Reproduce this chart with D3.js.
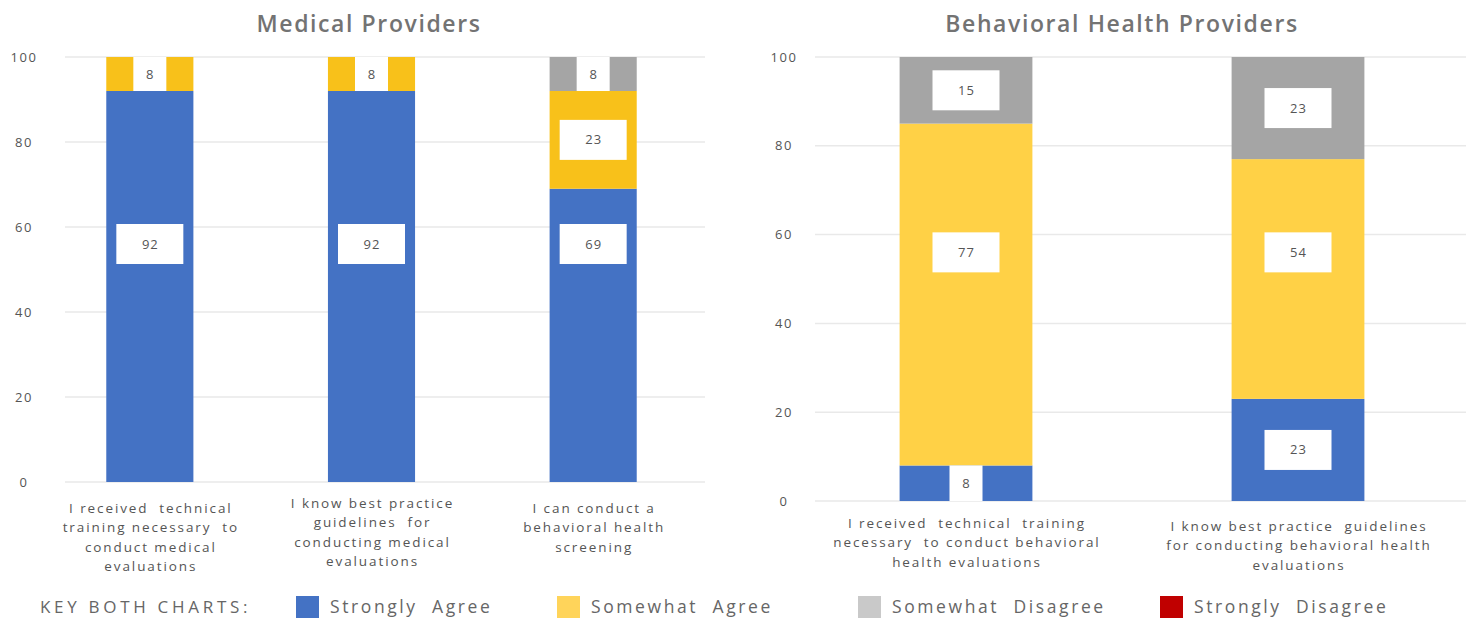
<!DOCTYPE html>
<html>
<head>
<meta charset="utf-8">
<script src="https://cdn.jsdelivr.net/npm/d3@7"></script>
<style>
  html, body { margin: 0; padding: 0; background: #ffffff; }
  svg { display: block; font-family: "Open Sans", "Noto Sans", sans-serif; }
</style>
</head>
<body>
<svg id="chart" width="1466" height="618"></svg>
<script>
// Response categories (stack order, bottom to top)
const seriesKeys = ["Strongly Agree", "Somewhat Agree", "Somewhat Disagree", "Strongly Disagree"];

// Medical providers panel
const medicalCategories = [
  ["I received  technical", "training necessary  to", "conduct medical", "evaluations"],
  ["I know best practice", "guidelines  for", "conducting medical", "evaluations"],
  ["I can conduct a", "behavioral health", "screening"]
];
const medicalStronglyAgree    = [92, 92, 69];
const medicalSomewhatAgree    = [8, 8, 23];
const medicalSomewhatDisagree = [0, 0, 8];
const medicalStronglyDisagree = [0, 0, 0];

// Behavioral health providers panel
const behavioralCategories = [
  ["I received  technical  training", "necessary  to conduct behavioral", "health evaluations"],
  ["I know best practice  guidelines", "for conducting behavioral health", "evaluations"]
];
const behavioralStronglyAgree    = [8, 23];
const behavioralSomewhatAgree    = [77, 54];
const behavioralSomewhatDisagree = [15, 23];
const behavioralStronglyDisagree = [0, 0];

const yTicks = [0, 20, 40, 60, 80, 100];

const svg = d3.select("#chart");

function drawPanel(cfg) {
  const rows = cfg.categories.map((c, i) => ({
    idx: i,
    "Strongly Agree": cfg.values[0][i],
    "Somewhat Agree": cfg.values[1][i],
    "Somewhat Disagree": cfg.values[2][i],
    "Strongly Disagree": cfg.values[3][i]
  }));

  const x = d3.scaleBand()
    .domain(rows.map(r => r.idx))
    .range(cfg.xRange)
    .paddingInner(cfg.padInner)
    .paddingOuter(cfg.padOuter);

  const y = d3.scaleLinear().domain([0, 100]).range(cfg.yRange);

  const g = svg.append("g");

  // horizontal gridlines
  g.append("g").selectAll("line")
    .data(yTicks)
    .join("line")
    .attr("x1", cfg.gridX[0]).attr("x2", cfg.gridX[1])
    .attr("y1", d => y(d)).attr("y2", d => y(d))
    .attr("stroke", "#e9e9e9").attr("stroke-width", 1.5);

  // y axis tick labels
  const axis = d3.axisLeft(y).tickValues(yTicks).tickSize(0).tickPadding(0);
  const ag = g.append("g")
    .attr("transform", `translate(${cfg.tickX},0)`)
    .call(axis);
  ag.select(".domain").remove();
  ag.selectAll("text")
    .attr("text-anchor", "middle")
    .attr("dy", "0.32em")
    .attr("font-size", 13)
    .attr("letter-spacing", 1.5)
    .attr("fill", "#555")
    .style("font-family", "'Open Sans', sans-serif");

  // title
  g.append("text")
    .attr("x", cfg.titleX).attr("y", 32)
    .attr("text-anchor", "middle")
    .attr("font-size", 23)
    .attr("font-weight", 600)
    .attr("letter-spacing", 1.6)
    .attr("fill", "#737373")
    .text(cfg.title);

  const stacked = d3.stack().keys(seriesKeys)(rows);

  // stacked segments
  stacked.forEach((layer, li) => {
    g.append("g").selectAll("rect")
      .data(layer.filter(d => d[1] - d[0] > 0))
      .join("rect")
      .attr("x", d => x(d.data.idx))
      .attr("width", x.bandwidth())
      .attr("y", d => y(d[1]))
      .attr("height", d => y(d[0]) - y(d[1]))
      .attr("fill", cfg.colors[li]);
  });

  // value labels in white boxes
  const labels = [];
  stacked.forEach(layer => {
    layer.forEach(d => {
      const v = d[1] - d[0];
      if (v > 0) labels.push({ d, v });
    });
  });
  const lg = g.append("g");
  labels.forEach(({ d, v }) => {
    const cx = x(d.data.idx) + x.bandwidth() / 2;
    const single = String(v).length === 1;
    let top, h, w;
    if (single) {
      // short segments: box fills the segment height
      w = 33;
      h = y(d[0]) - y(d[1]);
      top = y(d[1]);
    } else {
      w = 67; h = 40;
      // tall segments keep their label near mid-height of the axis
      let mid = (d[0] + d[1]) / 2;
      if (v > 40) mid = Math.min(Math.max(56, d[0] + 10), d[1] - 10);
      top = y(mid) - h / 2;
    }
    lg.append("rect")
      .attr("x", cx - w / 2).attr("y", top)
      .attr("width", w).attr("height", h)
      .attr("fill", "#ffffff");
    lg.append("text")
      .attr("x", cx + 0.5).attr("y", top + h / 2)
      .attr("dy", "0.35em")
      .attr("text-anchor", "middle")
      .attr("font-size", 13)
      .attr("letter-spacing", 1)
      .attr("fill", "#555")
      .text(v);
  });

  // category labels
  const cg = g.append("g");
  rows.forEach((r, i) => {
    const cx = x(r.idx) + x.bandwidth() / 2 + 1;
    const t = cg.append("text")
      .attr("x", cx)
      .attr("y", cfg.catY[i])
      .attr("text-anchor", "middle")
      .attr("font-size", 13.5)
      .attr("letter-spacing", 1.9)
      .attr("fill", "#555");
    cfg.categories[i].forEach((line, li) => {
      t.append("tspan")
        .attr("x", cx)
        .attr("dy", li === 0 ? 0 : 19.3)
        .style("white-space", "pre")
        .text(line);
    });
  });
}

drawPanel({
  title: "Medical Providers",
  titleX: 369,
  categories: medicalCategories,
  values: [medicalStronglyAgree, medicalSomewhatAgree, medicalSomewhatDisagree, medicalStronglyDisagree],
  xRange: [39, 704],
  padInner: 0.607,
  padOuter: 0.3035,
  yRange: [482, 57],
  gridX: [65, 705],
  tickX: 24,
  catY: [513, 508, 513],
  colors: ["#4472C4", "#F8C11A", "#A5A5A5", "#C00000"]
});

drawPanel({
  title: "Behavioral Health Providers",
  titleX: 1122,
  categories: behavioralCategories,
  values: [behavioralStronglyAgree, behavioralSomewhatAgree, behavioralSomewhatDisagree, behavioralStronglyDisagree],
  xRange: [800, 1464],
  padInner: 0.6,
  padOuter: 0.3,
  yRange: [501, 57],
  gridX: [815, 1466],
  tickX: 784,
  catY: [528, 531],
  colors: ["#4472C4", "#FFD146", "#A5A5A5", "#C00000"]
});

// shared legend
const legendColors = ["#4472C4", "#FFD45A", "#C9C9C9", "#C00000"];
const legendSwatchX = [296, 557, 858, 1160];
const legend = svg.append("g");
legend.append("text")
  .attr("x", 40).attr("y", 613)
  .attr("font-size", 17)
  .attr("letter-spacing", 3.7)
  .attr("fill", "#666")
  .text("KEY BOTH CHARTS:");
seriesKeys.forEach((k, i) => {
  legend.append("rect")
    .attr("x", legendSwatchX[i]).attr("y", 596)
    .attr("width", 23).attr("height", 22)
    .attr("fill", legendColors[i]);
  legend.append("text")
    .attr("x", legendSwatchX[i] + 34).attr("y", 613)
    .attr("font-size", 17.5)
    .attr("letter-spacing", 2.6)
    .attr("fill", "#666")
    .style("white-space", "pre")
    .text(k.replace(" ", "  "));
});
</script>
</body>
</html>
